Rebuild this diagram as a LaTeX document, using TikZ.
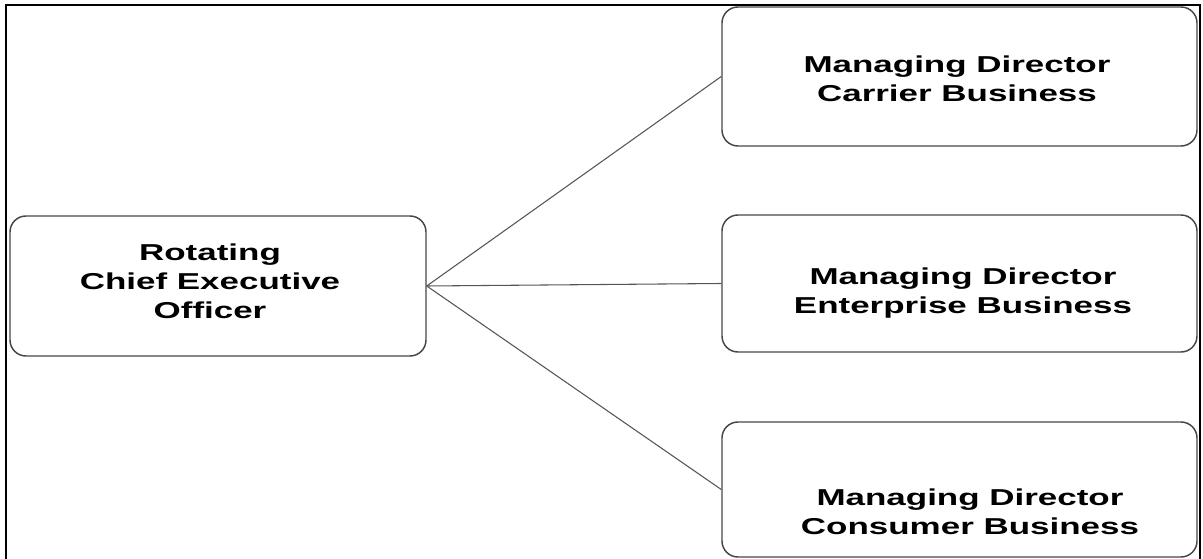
\documentclass[tikz,border=0pt]{standalone}
\usepackage{fontspec}
\newfontfamily\orgfont[FakeStretch=1.52]{Liberation Sans}
\begin{document}
\begin{tikzpicture}[x=0.75pt,y=-0.75pt,
  box/.style={draw={rgb,255:red,70;green,70;blue,70}, line width=1.1pt,
    rounded corners=12pt, inner sep=0pt, anchor=center},
  lbl/.style={font=\orgfont\bfseries\fontsize{17.25pt}{21.75pt}\selectfont,
    align=center, inner sep=0pt, anchor=center},
  link/.style={draw={rgb,255:red,85;green,85;blue,85}, line width=0.8pt}]
  \useasboundingbox (0,0) rectangle (1203,559);
  % outer frame (its lower edge runs off the page)
  \draw[line width=1.6pt] (6,562) -- (6,5) -- (1200,5) -- (1200,562);

  % boxes
  \node[box, minimum width=312pt, minimum height=105pt] (ceo) at (218,286) {};
  \node[box, minimum width=356.25pt, minimum height=104.25pt] (carrier) at (959.5,76.5) {};
  \node[box, minimum width=356.25pt, minimum height=102.75pt] (enterprise) at (959.5,283.5) {};
  \node[box, minimum width=356.25pt, minimum height=101.25pt] (consumer) at (959.5,489.5) {};

  % box texts
  \node[lbl] (ceo-t) at (210,281) {Rotating\\Chief Executive\\Officer};
  \node[lbl] (carrier-t) at (957,78.6) {Managing Director\\Carrier Business};
  \node[lbl] (enterprise-t) at (963,293) {Managing Director\\Enterprise Business};
  \node[lbl] (consumer-t) at (970,511.5) {Managing Director\\Consumer Business};

  % reporting lines
  \draw[link] (ceo.east) -- (carrier.west);
  \draw[link] (ceo.east) -- (enterprise.west);
  \draw[link] (ceo.east) -- (consumer.west);
\end{tikzpicture}
\end{document}
